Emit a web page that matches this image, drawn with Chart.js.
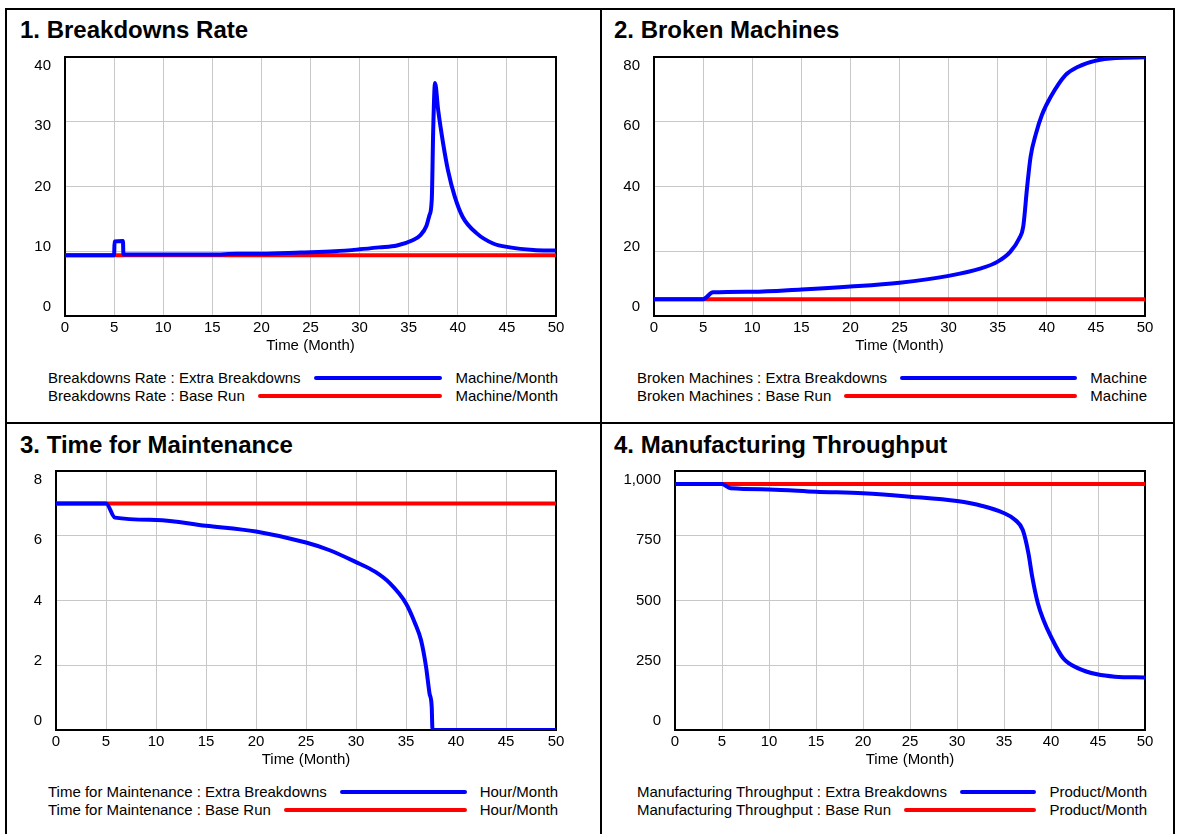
<!DOCTYPE html>
<html>
<head>
<meta charset="utf-8">
<script src="https://cdn.jsdelivr.net/npm/chart.js@4.4.0/dist/chart.umd.min.js"></script>
<style>
body { margin: 0; width: 1177px; height: 834px; background: #fff; position: relative; overflow: hidden;
       font-family: "Liberation Sans", Arial, sans-serif; color: #000; }
.frame { position: absolute; left: 5px; top: 8px; width: 1170px; height: 840px; border: 2px solid #000; box-sizing: border-box; }
.vdiv { position: absolute; left: 600px; top: 8px; width: 2px; height: 830px; background: #000; }
.hdiv { position: absolute; left: 5px; top: 422px; width: 1170px; height: 2px; background: #000; }
.title { position: absolute; font-weight: bold; font-size: 24px; line-height: 24px; white-space: nowrap; }
.leg { position: absolute; display: flex; align-items: center; height: 18px; font-size: 15px; line-height: 18px; white-space: nowrap; }
.leg .ln { flex: 1; height: 4px; margin: 0 13px; border-radius: 2px; }
canvas { position: absolute; }
</style>
</head>
<body>
<div class="frame"></div>
<div class="vdiv"></div>
<div class="hdiv"></div>

<div class="title" style="left:20px;top:18px">1. Breakdowns Rate</div>
<div class="title" style="left:614px;top:18px">2. Broken Machines</div>
<div class="title" style="left:20px;top:433px">3. Time for Maintenance</div>
<div class="title" style="left:614px;top:433px">4. Manufacturing Throughput</div>

<canvas id="c1"></canvas>
<canvas id="c2"></canvas>
<canvas id="c3"></canvas>
<canvas id="c4"></canvas>

<div class="leg" style="left:48px;top:369px;width:510px"><span>Breakdowns Rate : Extra Breakdowns</span><div class="ln" style="background:#0000ff"></div><span>Machine/Month</span></div>
<div class="leg" style="left:48px;top:387px;width:510px"><span>Breakdowns Rate : Base Run</span><div class="ln" style="background:#ff0000"></div><span>Machine/Month</span></div>
<div class="leg" style="left:637px;top:369px;width:510px"><span>Broken Machines : Extra Breakdowns</span><div class="ln" style="background:#0000ff"></div><span>Machine</span></div>
<div class="leg" style="left:637px;top:387px;width:510px"><span>Broken Machines : Base Run</span><div class="ln" style="background:#ff0000"></div><span>Machine</span></div>
<div class="leg" style="left:48px;top:783px;width:510px"><span>Time for Maintenance : Extra Breakdowns</span><div class="ln" style="background:#0000ff"></div><span>Hour/Month</span></div>
<div class="leg" style="left:48px;top:801px;width:510px"><span>Time for Maintenance : Base Run</span><div class="ln" style="background:#ff0000"></div><span>Hour/Month</span></div>
<div class="leg" style="left:637px;top:783px;width:510px"><span>Manufacturing Throughput : Extra Breakdowns</span><div class="ln" style="background:#0000ff"></div><span>Product/Month</span></div>
<div class="leg" style="left:637px;top:801px;width:510px"><span>Manufacturing Throughput : Base Run</span><div class="ln" style="background:#ff0000"></div><span>Product/Month</span></div>

<script>
// base run is flat over the whole run
const baseTime = [0, 50];

// 1. Breakdowns Rate (Machine/Month)
const rateTime = [0, 5, 5.05, 5.9, 5.95, 10, 15, 17.5, 20, 24, 27.5, 30, 32, 33.8, 35.4, 36.2, 36.8, 37.1, 37.35, 37.5, 37.68, 38, 38.5, 39, 39.7, 40.5, 41.9, 43.6, 45.3, 47.7, 50];
const rateExtra = [9.4, 9.4, 11.5, 11.6, 9.5, 9.5, 9.5, 9.6, 9.6, 9.8, 10.0, 10.3, 10.6, 10.9, 11.7, 12.5, 13.9, 15.5, 18, 29, 36, 31.8, 26.7, 22.5, 18.4, 15.3, 12.8, 11.2, 10.6, 10.2, 10.1];
const rateBase = [9.4, 9.4];

// 2. Broken Machines (Machine)
const brokenTime = [0, 5, 6, 10, 15, 20, 25, 30, 33.3, 35, 36.3, 37.2, 37.6, 38, 38.35, 38.9, 39.5, 40.4, 41.9, 43.2, 44.9, 47, 50];
const brokenExtra = [5.2, 5.2, 7.3, 7.5, 8.2, 9.1, 10.3, 12.4, 14.7, 16.8, 19.9, 24.0, 27.6, 39.9, 49.2, 56.4, 62.1, 67.7, 74.4, 77, 78.8, 79.7, 79.9];
const brokenBase = [5.2, 5.2];

// 3. Time for Maintenance (Hour/Month)
const maintTime = [0, 5, 5.9, 10, 15, 20, 25, 27.3, 29.9, 31.9, 33.4, 35, 35.9, 36.5, 37, 37.35, 37.57, 37.65, 50];
const maintExtra = [7.0, 7.0, 6.56, 6.49, 6.31, 6.13, 5.79, 5.56, 5.2, 4.89, 4.53, 3.91, 3.3, 2.78, 1.96, 1.13, 0.72, 0, 0];
const maintBase = [7.0, 7.0];

// 4. Manufacturing Throughput (Product/Month)
const thruTime = [0, 5, 5.9, 10, 15, 20, 25, 30, 32.7, 34.9, 36.2, 37, 37.6, 38, 38.6, 39.2, 40, 41.3, 42.9, 44.9, 46.8, 50];
const thruExtra = [950, 950, 933, 929, 920, 914, 901, 884, 865, 839, 811, 772, 682, 592, 489, 425, 360, 277, 238, 215, 206, 203];
const thruBase = [950, 950];

Chart.defaults.font.family = '"Liberation Sans", Arial, sans-serif';
Chart.defaults.font.size = 15;
Chart.defaults.color = '#000';

function pts(t, v) {
    return t.map((x, i) => ({ x: x, y: v[i] }));
}

// black box round the plot, under the lines
const frame = {
    id: 'frame',
    beforeDatasetsDraw(chart) {
        const a = chart.chartArea, c = chart.ctx;
        c.save();
        c.strokeStyle = '#000';
        c.lineWidth = 2;
        c.strokeRect(a.left, a.top, a.right - a.left, a.bottom - a.top);
        c.restore();
    }
};

// vensim spreads the y labels a bit inside the box
const yLabels = {
    id: 'yLabels',
    afterDraw(chart) {
        const s = chart.scales.y, c = chart.ctx;
        c.save();
        c.font = '15px "Liberation Sans", Arial, sans-serif';
        c.fillStyle = '#000';
        c.textAlign = 'right';
        c.textBaseline = 'middle';
        s.ticks.forEach(t => {
            const py = s.getPixelForValue(t.value);
            const f = (py - s.top) / (s.bottom - s.top);
            c.fillText(t.label, s.right - 14, py + 9 - 18 * f);
        });
        c.restore();
    }
};

function makeChart(id, left, top, axisW, plotW, yMax, step, t, extra, base) {
    const el = document.getElementById(id);
    el.width = axisW + plotW + 15;
    el.height = 12 + 259 + 45;
    el.style.left = (left - axisW) + 'px';
    el.style.top = (top - 12) + 'px';
    return new Chart(el, {
        type: 'line',
        data: {
            datasets: [
                { label: 'Extra Breakdowns', data: pts(t, extra), borderColor: '#0000ff' },
                { label: 'Base Run', data: pts(baseTime, base), borderColor: '#ff0000' }
            ]
        },
        options: {
            responsive: false,
            animation: false,
            devicePixelRatio: 1,
            locale: 'en-US',
            layout: { padding: { top: 12, right: 15, left: 0, bottom: 0 } },
            plugins: { legend: { display: false }, tooltip: { enabled: false } },
            elements: {
                point: { radius: 0 },
                line: { borderWidth: 4, cubicInterpolationMode: 'monotone', borderJoinStyle: 'round', borderCapStyle: 'round' }
            },
            scales: {
                x: {
                    type: 'linear', min: 0, max: 50,
                    ticks: { stepSize: 5, padding: 3, maxRotation: 0, autoSkip: false },
                    grid: { color: '#c8c8c8', drawTicks: false },
                    border: { display: false },
                    title: { display: true, text: 'Time (Month)', padding: { top: 0, bottom: 6 } },
                    afterFit: s => { s.height = 45; }
                },
                y: {
                    min: 0, max: yMax,
                    ticks: { stepSize: step, display: false },
                    grid: { color: '#c8c8c8', drawTicks: false },
                    border: { display: false },
                    afterFit: s => { s.width = axisW; }
                }
            }
        },
        plugins: [frame, yLabels]
    });
}

makeChart('c1', 65, 57, 60, 491, 40, 10, rateTime, rateExtra, rateBase);
makeChart('c2', 654, 57, 60, 491, 80, 20, brokenTime, brokenExtra, brokenBase);
makeChart('c3', 56, 471, 50, 500, 8, 2, maintTime, maintExtra, maintBase);
makeChart('c4', 675, 471, 70, 470, 1000, 250, thruTime, thruExtra, thruBase);
</script>
</body>
</html>
